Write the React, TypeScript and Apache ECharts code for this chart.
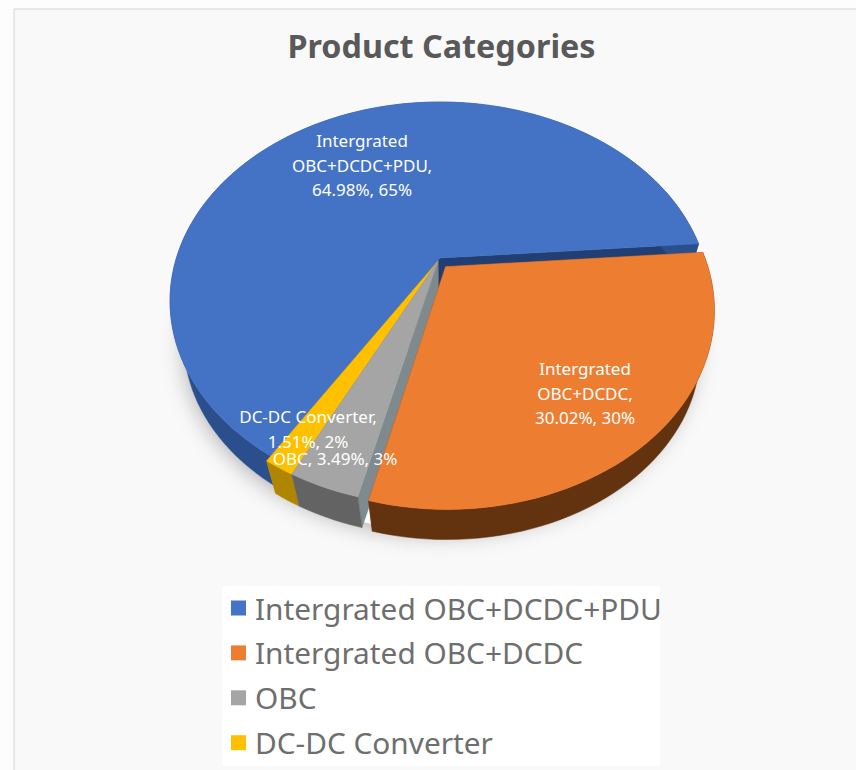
import React, { useEffect, useRef } from "react";
import * as echarts from "echarts";

const categories = ["Intergrated OBC+DCDC+PDU", "Intergrated OBC+DCDC", "OBC", "DC-DC Converter"];
const shares = [64.98, 30.02, 3.49, 1.51];
const rounded = ["65%", "30%", "3%", "2%"];
const topColors = ["#4472C4", "#ED7D31", "#A5A5A5", "#FFC000"];
const wallColors = ["#2B4E8C", "#63320F", "#636363", "#B08600"];
const cutColors = ["#223F74", "#8A4A1C", "#7E8A8E", "#C99A00"];
const startAngle = 121.7;

const explode = [
  { e: 0, at: 0, r: 1 },
  { e: 0.05, at: 65, r: 0.985 },
  { e: 0.02, at: 115, r: 1 },
  { e: 0.02, at: 115, r: 1 },
];
const drawOrder = [2, 5, 4, 3];
const top = { cx: 440, cy: 258, a: 263.6, b: 189.7, k: 0.216 };
const base = { cx: 440, cy: 301, a: 250, b: 180, k: 0.216 };

const rad = (d: number) => (d * Math.PI) / 180;

function project(u: number, v: number, p: typeof top): number[] {
  const w = 1 - p.k * v;
  return [p.cx + (p.a * u) / w, p.cy + (p.b * v) / w];
}

function sliceSpan(i: number): number[] {
  const total = shares.reduce((s, x) => s + x, 0);
  const before = shares.slice(0, i).reduce((s, x) => s + x, 0);
  return [startAngle + (before / total) * 360, startAngle + ((before + shares[i]) / total) * 360];
}

function renderSlice(i: number) {
  const [a0, a1] = sliceSpan(i);
  const { e, at, r } = explode[i];
  const du = e * Math.cos(rad(at));
  const dv = e * Math.sin(rad(at));
  const steps = Math.max(6, Math.ceil((a1 - a0) / 2));
  const rim = (p: typeof top) => {
    const out: number[][] = [];
    for (let s = 0; s <= steps; s++) {
      const t = rad(a0 + ((a1 - a0) * s) / steps);
      out.push(project(r * Math.cos(t) + du, r * Math.sin(t) + dv, p));
    }
    return out;
  };
  const rimTop = rim(top);
  const rimBase = rim(base);
  const apexTop = project(du, dv, top);
  const apexBase = project(du, dv, base);
  const poly = (points: number[][], fill: string) => ({
    type: "polygon",
    shape: { points },
    style: { fill, stroke: fill, lineWidth: 0.5 },
  });
  return {
    type: "group",
    children: [
      poly([apexTop, rimTop[0], rimBase[0], apexBase], cutColors[i]),
      poly([apexTop, rimTop[steps], rimBase[steps], apexBase], cutColors[i]),
      poly([...rimTop, ...rimBase.slice().reverse()], wallColors[i]),
      poly([apexTop, ...rimTop], topColors[i]),
    ],
  };
}

function renderShadow() {
  const pts: number[][] = [];
  for (let d = 0; d < 360; d += 4) pts.push(project(Math.cos(rad(d)), Math.sin(rad(d)), base));
  return {
    type: "polygon",
    shape: { points: pts },
    style: { fill: "#ffffff", shadowBlur: 22, shadowColor: "rgba(0,0,0,0.3)", shadowOffsetY: 4 },
  };
}

const sliceLabels = [
  { lines: ["Intergrated", "OBC+DCDC+PDU,", `${shares[0].toFixed(2)}%, ${rounded[0]}`], x: 362, y: 165 },
  { lines: ["Intergrated", "OBC+DCDC,", `${shares[1].toFixed(2)}%, ${rounded[1]}`], x: 585, y: 393 },
  { lines: [`OBC, ${shares[2].toFixed(2)}%, ${rounded[2]}`], x: 335, y: 458 },
  { lines: ["DC-DC Converter,", `${shares[3].toFixed(2)}%, ${rounded[3]}`], x: 308, y: 429 },
];

export default function App() {
  const ref = useRef<HTMLDivElement>(null);
  useEffect(() => {
    if (!ref.current) return;
    const chart = echarts.init(ref.current, undefined, { renderer: "svg" });
    const font = "'Noto Sans', sans-serif";
    const series: any[] = [
      {
        type: "custom",
        coordinateSystem: "none",
        silent: true,
        z: 1,
        data: [0],
        renderItem: () => renderShadow(),
      },
      ...categories.map((name, i) => ({
        type: "custom",
        name,
        coordinateSystem: "none",
        silent: true,
        z: drawOrder[i],
        itemStyle: { color: topColors[i] },
        data: [shares[i]],
        renderItem: () => renderSlice(i),
      })),
    ];
    chart.setOption({
      animation: false,
      backgroundColor: "#fdfdfd",
      title: {
        text: "Product Categories",
        left: 436.5,
        top: 24,
        textAlign: "center",
        textStyle: { fontFamily: font, fontSize: 32.3, fontWeight: 700, color: "#595959" },
      },
      legend: {
        data: categories,
        orient: "vertical",
        left: 231,
        top: 593,
        padding: 0,
        icon: "rect",
        itemWidth: 15,
        itemHeight: 15,
        itemGap: 14.9,
        textStyle: { fontFamily: font, fontSize: 29.8, color: "#6e6e6e", padding: [0, 0, 0, 4] },
        backgroundColor: "transparent",
      },
      graphic: [
        {
          type: "rect",
          z: -10,
          shape: { x: 14, y: 9, width: 850, height: 770 },
          style: { fill: "#f9f9f9", stroke: "#d4d4d4", lineWidth: 1 },
        },
        {
          type: "rect",
          z: -9,
          shape: { x: 222, y: 586, width: 438, height: 180 },
          style: { fill: "#ffffff" },
        },
        ...sliceLabels.flatMap((l) =>
          l.lines.map((text, j) => ({
            type: "text",
            z: 50,
            x: l.x,
            y: l.y + (j - (l.lines.length - 1) / 2) * 24.5,
            style: {
              text,
              fill: "#ffffff",
              align: "center",
              verticalAlign: "middle",
              font: `17px ${font}`,
            },
          }))
        ),
      ],
      series,
    });
    return () => chart.dispose();
  }, []);
  return <div ref={ref} style={{ width: 856, height: 770, position: "absolute", left: 0, top: 0 }} />;
}
